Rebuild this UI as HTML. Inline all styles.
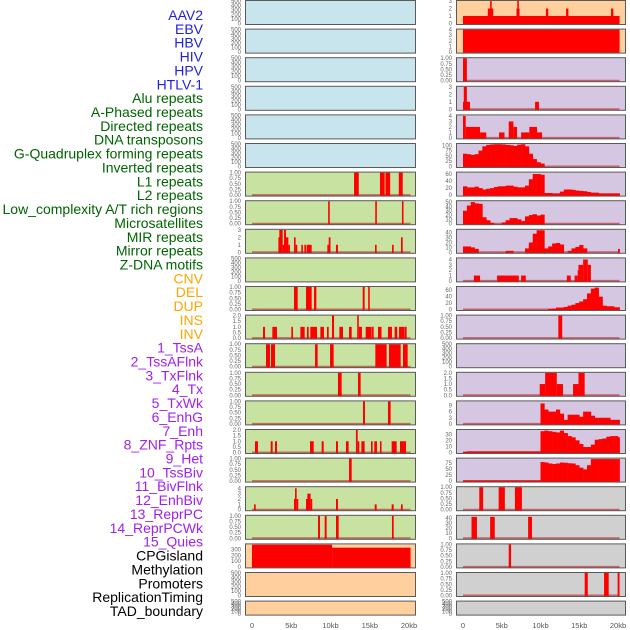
<!DOCTYPE html>
<html><head><meta charset="utf-8"><style>
html,body{margin:0;padding:0;background:#fff}
svg{display:block}
.lab{font-family:"Liberation Sans",sans-serif;font-size:14px}
.tk{font-family:"Liberation Sans",sans-serif;font-size:6px;fill:#666}
.ax{font-family:"Liberation Sans",sans-serif;font-size:7.5px;fill:#555}
</style></head><body>
<svg id="chart" width="630" height="630" viewBox="0 0 630 630"></svg>
<script>
// ---- data ----
const trackLabels=["AAV2","EBV","HBV","HIV","HPV","HTLV-1","Alu repeats","A-Phased repeats","Directed repeats","DNA transposons","G-Quadruplex forming repeats","Inverted repeats","L1 repeats","L2 repeats","Low_complexity A/T rich regions","Microsatellites","MIR repeats","Mirror repeats","Z-DNA motifs","CNV","DEL","DUP","INS","INV","1_TssA","2_TssAFlnk","3_TxFlnk","4_Tx","5_TxWk","6_EnhG","7_Enh","8_ZNF_Rpts","9_Het","10_TssBiv","11_BivFlnk","12_EnhBiv","13_ReprPC","14_ReprPCWk","15_Quies","CPGisland","Methylation","Promoters","ReplicationTiming","TAD_boundary"];
const labelGroups=[6,13,5,15,5];
const groupColors=["#1f1fe0","#006400","#ffa500","#a020f0","#000000"];
const xTickLabels=["0","5kb","10kb","15kb","20kb"];
const xTickValues=[0,5,10,15,20];
const T01=["0.00","0.25","0.50","0.75","1.00"], T500=["0","100","200","300","400","500"], T2=["0.0","0.5","1.0","1.5","2.0"];
// left column segments [startKb,endKb,value]
const L6=[[13.0,13.6,1],[16.3,16.9,1],[17.0,17.6,1],[18.7,19.2,1]];
const L7=[[9.7,9.9,1],[15.7,15.9,1],[19.1,19.3,1]];
const L8=[[3.36,3.48,2],[3.48,3.91,3],[3.91,4.08,1],[4.08,4.33,3],[4.33,4.63,2],[4.63,4.8,1],[5.35,5.56,2],[5.56,5.69,1],[6.28,6.45,1],[6.67,6.88,1],[6.96,7.6,1],[9.6,9.77,1],[9.77,10.0,2],[10.7,10.95,1],[15.67,15.88,1],[17.84,18.05,1],[18.98,19.2,2]];
const L10=[[5.35,5.82,1],[6.88,7.6,1],[7.9,8.2,1],[14.1,14.35,1],[14.8,15.0,1]];
const L11=[[1.4,1.66,1],[2.59,3.18,1],[5.01,5.22,1],[6.16,6.71,1],[7.0,7.22,1],[7.43,8.28,1],[8.71,9.17,1],[9.55,9.77,1],[10.19,10.45,2],[11.13,11.59,1],[12.36,12.7,1],[13.4,13.6,2],[13.6,14.0,1],[14.48,15.24,1],[15.29,15.5,1],[16.05,16.5,1],[17.32,17.83,1],[18.17,18.5,1],[18.73,19.36,1],[19.4,19.7,1]];
const L12=[[1.78,2.29,1],[2.42,2.93,1],[8.03,8.36,1],[9.94,10.4,1],[15.71,17.15,1],[17.45,18.94,1],[19.23,19.83,1]];
const L13=[[10.95,11.42,1],[13.5,13.84,1]];
const L14=[[14.14,14.39,1],[17.32,17.66,1]];
const L15=[[0.38,0.76,1],[2.38,2.63,1],[2.93,3.18,1],[7.39,7.86,1],[8.87,9.13,1],[10.7,10.95,1],[11.97,12.31,1],[13.24,13.46,2],[13.46,13.6,1],[13.93,14.35,1],[15.16,15.37,1],[15.58,15.92,1],[16.3,16.5,1],[17.79,18.43,1],[18.85,19.36,1],[19.36,19.62,1]];
const L16=[[12.36,12.7,1]];
const L17=[[0.26,0.47,1],[5.35,5.48,2],[5.48,5.69,4],[5.69,5.82,2],[6.88,7.05,2],[7.05,7.47,3],[7.47,7.64,2],[10.7,10.95,2],[15.63,15.88,1],[17.79,18.05,1],[18.98,19.2,1]];
const L18=[[8.41,8.66,1],[9.26,9.51,1],[10.7,11.04,1],[17.83,18.05,1]];
const L19=[[0,10.2,385],[10.2,20.2,333]];
// right column segments
const R0=[[0,20.2,1],[3.2,3.9,2],[3.5,3.7,3],[6.9,7.3,2],[7.0,7.2,3],[10.7,11.0,2],[13.3,13.6,2],[19.1,19.4,2]];
const R1=[[0,20.2,4]];
const R2=[[0,0.5,1]];
const R3=[[0,0.9,1],[0.1,0.5,3],[9.3,9.8,1]];
const R4=[[0,0.35,4],[0.35,2.2,2],[2.2,3.0,1],[4.65,5.35,1],[5.9,6.5,3],[6.5,6.97,2],[7.5,8.56,1],[8.56,9.55,2],[9.55,10.2,1]];
const R9=[[1.4,2.2,1],[4.4,7.2,1],[7.5,8.1,1],[13.4,13.9,1],[14.4,14.8,1],[14.8,14.9,2],[14.9,15.5,3],[15.5,16.1,4],[16.1,16.5,3]];
const R11=[[12.3,12.8,1]];
const R13=[[9.9,10.6,1],[10.6,12.1,2],[12.1,12.9,1],[14.2,14.9,1],[14.9,15.7,2]];
const R17=[[2.1,2.6,1],[4.6,5.4,1],[6.7,7.6,1]];
const R18=[[1.1,1.8,42],[3.5,4.1,42],[8.4,8.9,42]];
const R19=[[5.9,6.2,1]];
const R20=[[15.7,16.1,1],[18.2,18.8,1],[19.95,20.2,1]];
// right column binned profiles (0.5kb bins starting at 0kb)
const R5=[60,58,55,58,75,95,102,104,105,105,104,102,100,97,103,105,95,60,35,20,14];
const R6=[25,22,22,24,20,16,18,20,23,25,25,27,27,24,22,22,27,45,60,60,58,6,6,5,5,10,16,16,15,13,12,11,9,7,7,5,5,5,5,5,5];
const R7=[30,42,50,47,46,15,8,2,0,0,3,8,13,13,10,6,17,20,22,19,21];
const R8=[12,12,10,7,0,0,0,0,0,0,0,3,3,0,0,0,8,20,38,45,45,8,12,18,19,16,0,3,8,11,15,8,0,0,0,0,0,0,0,0,7];
const R10=[0,0,0,0,0,0,0,0,0,0,0,0,0,0,0,0,0,0,0,0,0,0,2,3,6,6,8,12,15,20,25,32,50,65,68,40,12,10,10,7,7];
const R14=[0,0,0,0,0,0,0,0,0,0,0,0,0,0,0,0,0,0,0,0,10,7,6,6,7,5,2,4.5,4.5,4.5,3.5,6,6,4,3,3,3,3,2,2,2];
const R15=[1,2,2,2,2,2,2,2,2,2,2,2,2,2,2,2,2,2,2,2,35,36,35,34,33,36,32,27,25,20,14,9,9,13,21,22,23,26,27,27,25];
const R16=[3,3,3,3,3,3,3,3,3,3,3,3,3,3,3,3,3,3,3,3,78,76,72,70,72,76,75,73,72,65,55,48,65,90,90,90,90,90,90,90,90];

const BLUE="#c8e4ec",GREEN="#c8e2a2",ORANGE="#ffd09e",PURPLE="#d5c6e2",GREY="#d0d0d0";
// panels: col,row,bg,dmax,ticks,tickValues,segs,bins
const panels=[];
function P(col,row,bg,dmax,ticks,tv,segs,bins){panels.push({col,row,bg,dmax,ticks,tv,segs,bins});}
const V500=[0,100,200,300,400,500],V01=[0,0.25,0.5,0.75,1],V2=[0,0.5,1,1.5,2];
for(let r=0;r<6;r++)P(0,r,BLUE,500,T500,V500,null,null);
P(0,6,GREEN,1,T01,V01,L6);P(0,7,GREEN,1,T01,V01,L7);
P(0,8,GREEN,3,["0","1","2","3"],[0,1,2,3],L8);
P(0,9,GREEN,500,T500,V500,null);
P(0,10,GREEN,1,T01,V01,L10);P(0,11,GREEN,2,T2,V2,L11);
P(0,12,GREEN,1,T01,V01,L12);P(0,13,GREEN,1,T01,V01,L13);P(0,14,GREEN,1,T01,V01,L14);
P(0,15,GREEN,2,T2,V2,L15);P(0,16,GREEN,1,T01,V01,L16);
P(0,17,GREEN,4.2,["0","1","2","3","4"],[0,1,2,3,4],L17);
P(0,18,GREEN,1,T01,V01,L18);
P(0,19,ORANGE,390,["0","100","200","300"],[0,100,200,300],L19);
P(0,20,ORANGE,500,T500,V500,null);P(0,21,ORANGE,500,T500,V500,null);
P(1,0,ORANGE,3,["0","1","2","3"],[0,1,2,3],R0);
P(1,1,ORANGE,4,["0","1","2","3","4"],[0,1,2,3,4],R1);
P(1,2,PURPLE,1,T01,V01,R2);
P(1,3,PURPLE,3,["0","1","2","3"],[0,1,2,3],R3);
P(1,4,PURPLE,4.1,["0","1","2","3","4"],[0,1,2,3,4],R4);
P(1,5,PURPLE,106,["0","25","50","75","100"],[0,25,50,75,100],null,R5);
P(1,6,PURPLE,64,["0","20","40","60"],[0,20,40,60],null,R6);
P(1,7,PURPLE,52,["0","10","20","30","40","50"],[0,10,20,30,40,50],null,R7);
P(1,8,PURPLE,46,["0","10","20","30","40"],[0,10,20,30,40],null,R8);
P(1,9,PURPLE,4.2,["0","1","2","3","4"],[0,1,2,3,4],R9);
P(1,10,PURPLE,70,["0","20","40","60"],[0,20,40,60],null,R10);
P(1,11,PURPLE,1,T01,V01,R11);
P(1,12,PURPLE,500,T500,V500,null);
P(1,13,PURPLE,2,T2,V2,R13);
P(1,14,PURPLE,11,["0","3","6","9"],[0,3,6,9],null,R14);
P(1,15,PURPLE,37,["0","10","20","30"],[0,10,20,30],null,R15);
P(1,16,PURPLE,92,["0","25","50","75"],[0,25,50,75],null,R16);
P(1,17,GREY,1,T01,V01,R17);
P(1,18,GREY,44,["0","10","20","30","40"],[0,10,20,30,40],R18);
P(1,19,GREY,1,T01,V01,R19);
P(1,20,GREY,1,T01,V01,R20);
P(1,21,GREY,500,T500,V500,null);

// ---- drawing ----
const NS="http://www.w3.org/2000/svg";
const svg=document.getElementById('chart');
function mk(tag,attrs,parent){const e=document.createElementNS(NS,tag);for(const k in attrs)e.setAttribute(k,attrs[k]);(parent||svg).appendChild(e);return e;}
const colGeom=[{px0:245,px1:416,x0:252,kpx:7.85,tx:241},{px0:456,px1:626,x0:463,kpx:7.75,tx:452}];
function xScale(col,kb){return colGeom[col].x0+kb*colGeom[col].kpx;}
function rowTop(r){return r*28.6;}
function rowH(r){return r===21?15:25;}
function yScale(p,v){const t=rowTop(p.row),h=rowH(p.row);const y0=t+h-1.5,y1=t+1;return y0-(v/p.dmax)*(y0-y1);}

// labels
let li=0;
labelGroups.forEach((n,g)=>{for(let k=0;k<n;k++){const t=mk('text',{x:203,y:15+li*13.86+5,'text-anchor':'end',class:'lab',fill:groupColors[g]});


t.textContent=trackLabels[li];li++;}});

panels.forEach((p,i)=>{
  const g=colGeom[p.col],t=rowTop(p.row),h=rowH(p.row);
  const grp=mk('g',{});
  
  
  mk('rect',{x:g.px0+0.5,y:t+0.5,width:g.px1-g.px0-1,height:h-1,fill:p.bg},grp);
  const y0=yScale(p,0);
  if(p.segs||p.bins){
    const bl=mk('line',{x1:xScale(p.col,0),x2:xScale(p.col,20.2),y1:y0,y2:y0,stroke:'rgba(190,30,30,0.6)','stroke-width':2},grp);
    
    
  }
  const bars=[];
  if(p.segs)p.segs.forEach(s=>bars.push(s));
  if(p.bins)p.bins.forEach((v,k)=>bars.push([k*0.5,Math.min((k+1)*0.5,20.2),v]));
  bars.forEach(s=>{
    if(s[2]<=0)return;
    let xa=xScale(p.col,s[0]),xb=xScale(p.col,s[1]);
    if(xb-xa<1.6)xb=xa+1.6;
    const yv=Math.max(yScale(p,s[2]),t+1);
    const r=mk('rect',{x:xa,y:yv,width:xb-xa+(p.bins?0.3:0),height:y0+1-yv,fill:'#ff0000'},grp);
    
    
  });
  mk('rect',{x:g.px0+0.5,y:t+0.5,width:g.px1-g.px0-1,height:h-1,fill:'none',stroke:'#5a5a5a','stroke-width':1},grp);
  p.ticks.forEach((lab,k)=>{
    const tt=mk('text',{x:g.tx,y:yScale(p,p.tv[k])+2,'text-anchor':'end',class:'tk'},grp);
    
    
    tt.textContent=lab;
  });
});
// x axes
[0,1].forEach(col=>{xTickValues.forEach((v,k)=>{
  const tt=mk('text',{x:xScale(col,v),y:628,'text-anchor':'middle',class:'ax'});
  
  
  tt.textContent=xTickLabels[k];
});});
</script>
</body></html>
